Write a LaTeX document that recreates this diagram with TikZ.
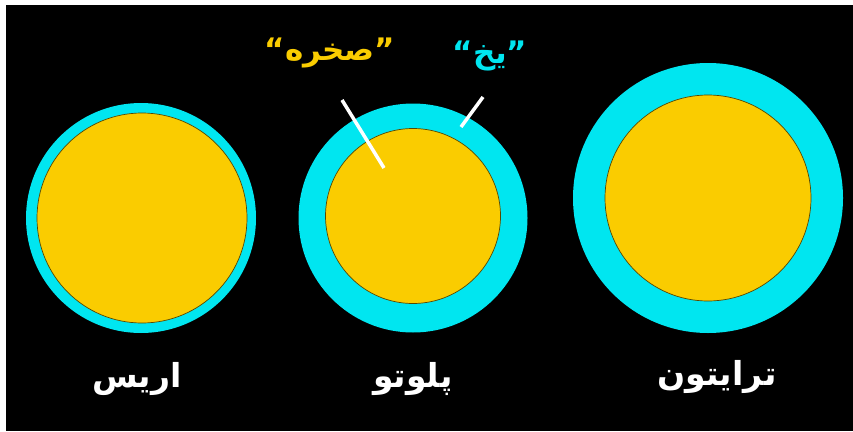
\documentclass[tikz,border=0pt]{standalone}
\usepackage{fontspec}
\usepackage{xcolor}
\usetikzlibrary{positioning}
\TeXXeTstate=1
\newfontfamily\arabicfont[Script=Arabic]{DejaVu Sans}
\definecolor{myice}{HTML}{00E6F0}
\definecolor{myrock}{HTML}{FACC00}
\tikzset{
  % Layers of the bodies
  ice/.style={circle,fill=myice,inner sep=0,outer sep=0},
  rock/.style={circle,fill=myrock,draw=myrock!35!black,line width=0.7pt,inner sep=0,outer sep=0},
  % Texts
  body name/.style={text=white,font=\arabicfont\bfseries\fontsize{33}{38}\selectfont},
  part name/.style={font=\arabicfont\bfseries\fontsize{31}{36}\selectfont},
  pointer/.style={white,line width=3.5pt}
}
\begin{document}
\begin{tikzpicture}[x=1pt,y=-1pt]
    \fill[white] (0,0) rectangle (853,431);
    \fill[black] (6,5) rectangle (853,431);
    % Eris - thin ice
    \node[ice,minimum size=230pt] (eris ice) at (141,218) {};
    \node[rock,minimum size=210pt] (eris rock) at (142,218) {};
    \node[body name] (eris name) at (137,379) {\beginR اریس\endR};
    % Pluto
    \node[ice,minimum size=229pt] (pluto ice) at (413,218) {};
    \node[rock,minimum size=175pt] (pluto rock) at (413,216) {};
    \node[body name] (pluto name) at (413,379) {\beginR پلوتو\endR};
    % Triton - thick ice
    \node[ice,minimum size=270pt] (triton ice) at (708,198) {};
    \node[rock,minimum size=206pt] (triton rock) at (708,198) {};
    \node[body name] (triton name) at (717,377) {\beginR ترایتون\endR};
    % Parts of Pluto
    \node[part name,text=myrock] (rock name) at (330,53) {“\beginR صخره\endR”};
    \node[part name,text=myice] (ice name) at (490,56) {“\beginR یخ\endR”};
    \coordinate (rock from) at (342,100);
    \coordinate (rock to) at (384,168);
    \coordinate (ice from) at (483,97);
    \coordinate (ice to) at (461,127);
    \draw[pointer] (rock from) -- (rock to);
    \draw[pointer] (ice from) -- (ice to);
\end{tikzpicture}
\end{document}
